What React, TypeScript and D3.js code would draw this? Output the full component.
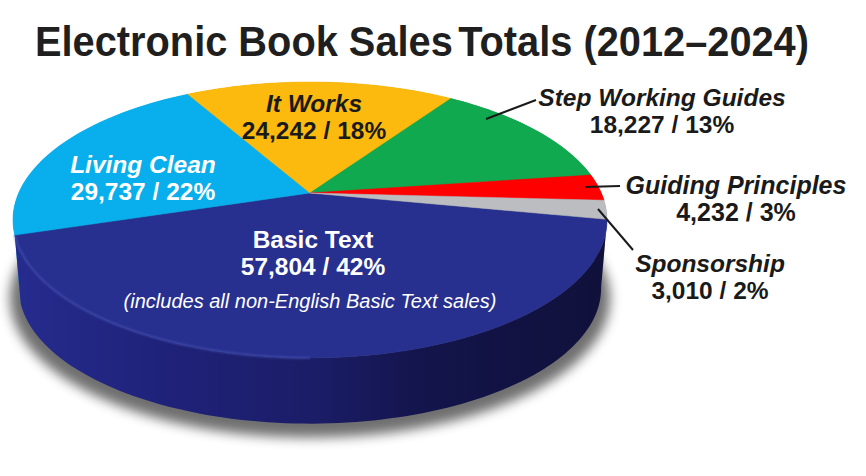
import * as d3 from 'd3';

const categories = ['Basic Text', 'Living Clean', 'It Works', 'Step Working Guides', 'Guiding Principles', 'Sponsorship'];
const sales = [57804, 29737, 24242, 18227, 4232, 3010];
const percents = [42, 22, 18, 13, 3, 2];
const topColors = ['#27308f', '#09afed', '#fcba0e', '#11a94f', '#fe0000', '#bcbdc0'];
const sideColors = ['url(#side-navy)', '#06a0de', '#c99100', '#0b8a40', '#c00000', '#96979a'];

const W = 866;
const H = 476;
const FONT = '"Liberation Sans", Arial, sans-serif';

// pie plane -> screen, a circle seen in perspective (apex sits above the ellipse centre)
const APEX_X = 310;
const APEX_Y = 193;
const RX = 291.3;
const RY = 132.7;
const TILT = 0.1955;
const DEPTH = 69;
const BOTTOM_SCALE = 0.98;
const START = (101 * Math.PI) / 180;

const project = (angle: number, r = 1, drop = 0, scale = 1): [number, number] => {
	const u = Math.sin(angle) * r;
	const v = -Math.cos(angle) * r;
	const w = 1 - TILT * v;
	return [APEX_X + (scale * RX * u) / w, APEX_Y + (scale * RY * v) / w + drop];
};

const sampleArc = (a0: number, a1: number, drop = 0, scale = 1) => {
	const n = Math.max(2, Math.ceil(Math.abs(a1 - a0) * 40));
	return d3.range(n + 1).map((i) => project(a0 + ((a1 - a0) * i) / n, 1, drop, scale));
};

const line = d3.line<[number, number]>();

const slices = d3
	.pie<number>()
	.sort(null)
	.startAngle(START)
	.endAngle(START + 2 * Math.PI)(sales);

const facePath = (a0: number, a1: number) => line([project(0, 0), ...sampleArc(a0, a1)]) + 'Z';
const sidePath = (a0: number, a1: number) =>
	line([...sampleArc(a0, a1), ...sampleArc(a1, a0, DEPTH, BOTTOM_SCALE)]) + 'Z';

// text blocks, name line + value line
const labelLayout = [
	{ x: 313, y: 248, fill: '#fff', italic: false, size: 24.5 },
	{ x: 143, y: 173, fill: '#fff', italic: true, size: 24.5 },
	{ x: 314, y: 112, fill: '#1a1a1a', italic: true, size: 24.5 },
	{ x: 662, y: 106, fill: '#1a1a1a', italic: true, size: 24.5 },
	{ x: 736, y: 194, fill: '#1a1a1a', italic: true, size: 25 },
	{ x: 710, y: 272, fill: '#1a1a1a', italic: true, size: 24.5 },
];

const leaders = [
	{ from: [486, 119], to: [536, 100] },
	{ from: [585, 187], to: [620, 186] },
	{ from: [598, 209], to: [633, 250] },
];

const fmt = d3.format(',');

export default function App() {
	return (
		<svg
			width={W}
			height={H}
			style={{ position: 'absolute', left: 0, top: 0, background: '#fff', fontFamily: FONT }}
		>
			<defs>
				<linearGradient id="side-navy" x1="0" x2="1" y1="0" y2="0">
					<stop offset="0" stopColor="#262c8e" />
					<stop offset="0.25" stopColor="#1f2279" />
					<stop offset="0.5" stopColor="#1b1d68" />
					<stop offset="0.7" stopColor="#13144a" />
					<stop offset="1" stopColor="#10113a" />
				</linearGradient>
				<filter id="soft" x="-15%" y="-15%" width="130%" height="130%" colorInterpolationFilters="sRGB">
					<feGaussianBlur stdDeviation="6" />
				</filter>
				<filter id="rim" x="-5%" y="-5%" width="110%" height="110%">
					<feGaussianBlur stdDeviation="1" />
				</filter>
			</defs>

			<text x={422} y={56} textAnchor="middle" fontSize={42} fontWeight={700} fill="#1f1f1f" textLength={774} lengthAdjust="spacingAndGlyphs">
				Electronic Book Sales<tspan dx={-6}> Totals (2012–2024)</tspan>
			</text>

			{/* ground shadow */}
			<path
				d={line(sampleArc(0, 2 * Math.PI, DEPTH + 9, 1.01)) + 'Z'}
				fill="#333"
				opacity={0.7}
				filter="url(#soft)"
			/>

			{/* side wall, Basic Text goes last so it stays in front */}
			{slices
				.map((s, i) => ({ s, i }))
				.reverse()
				.map(({ s, i }) => (
					<path key={i} d={sidePath(s.startAngle, s.endAngle)} fill={sideColors[i]} />
				))}

			{/* top face */}
			{slices.map((s, i) => (
				<path key={i} d={facePath(s.startAngle, s.endAngle)} fill={topColors[i]} stroke={topColors[i]} strokeWidth={0.5} />
			))}
			<path
				d={line(sampleArc(Math.PI, slices[0].endAngle)) ?? ''}
				fill="none"
				stroke="#4a54b5"
				strokeWidth={1.6}
				opacity={0.8}
				filter="url(#rim)"
			/>

			{leaders.map((l, i) => (
				<line key={i} x1={l.from[0]} y1={l.from[1]} x2={l.to[0]} y2={l.to[1]} stroke="#1a1a1a" strokeWidth={2} />
			))}

			{categories.map((c, i) => {
				const lay = labelLayout[i];
				return (
					<text key={c} x={lay.x} textAnchor="middle" fontWeight={700} fontSize={lay.size} fill={lay.fill}>
						<tspan x={lay.x} y={lay.y} fontStyle={lay.italic ? 'italic' : 'normal'}>
							{c}
						</tspan>
						<tspan x={lay.x} y={lay.y + 27}>
							{fmt(sales[i])} / {percents[i]}%
						</tspan>
					</text>
				);
			})}
			<text x={310} y={308} textAnchor="middle" fontSize={20} fontStyle="italic" fill="#fff">
				(includes all non-English Basic Text sales)
			</text>
		</svg>
	);
}
